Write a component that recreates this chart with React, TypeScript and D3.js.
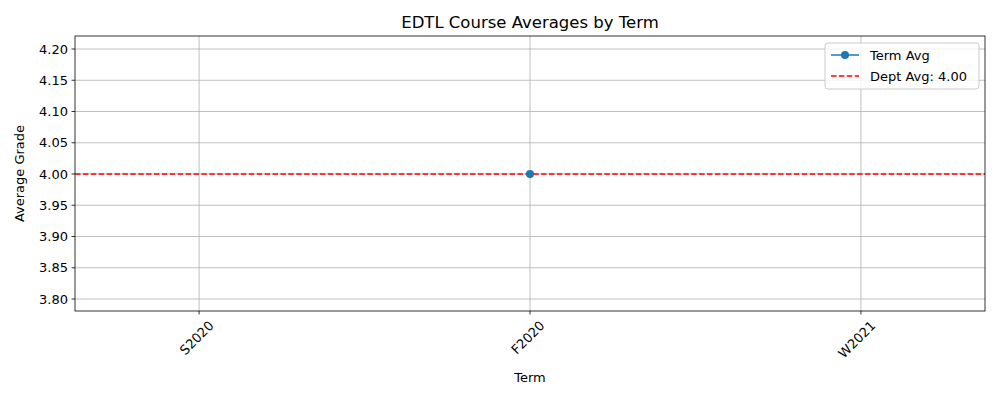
import React from 'react';
import * as d3 from 'd3';

const terms = ['S2020', 'F2020', 'W2021'];
const termAvg: (number | null)[] = [null, 4.0, null];
const deptAvg = 4.0;
const yTicks = [3.8, 3.85, 3.9, 3.95, 4.0, 4.05, 4.1, 4.15, 4.2];

const W = 1000;
const H = 400;
const m = { top: 36, right: 15, bottom: 89, left: 75 };

const App: React.FC = () => {
  const x = d3.scaleLinear().domain([-0.375, terms.length - 1 + 0.375]).range([m.left, W - m.right]);
  const y = d3.scaleLinear().domain([3.7808, 4.2208]).range([H - m.bottom, m.top]);
  const font = 'DejaVu Sans, sans-serif';
  const blue = '#1f77b4';

  const pts = termAvg.map((v, i) => ({ v, i })).filter((d) => d.v !== null);
  const line = d3
    .line<{ v: number | null; i: number }>()
    .defined((d) => d.v !== null)
    .x((d) => x(d.i))
    .y((d) => y(d.v as number));

  return (
    <svg width={W} height={H} style={{ position: 'absolute', left: 0, top: 0 }} fontFamily={font}>
      <rect width={W} height={H} fill="#fff" />
      {/* grid */}
      {yTicks.map((t) => (
        <line key={t} x1={m.left} x2={W - m.right} y1={y(t)} y2={y(t)} stroke="#b0b0b0" strokeWidth={0.8} />
      ))}
      {terms.map((t, i) => (
        <line key={t} x1={x(i)} x2={x(i)} y1={m.top} y2={H - m.bottom} stroke="#b0b0b0" strokeWidth={0.8} />
      ))}
      {/* dept avg */}
      <line x1={m.left} x2={W - m.right} y1={y(deptAvg)} y2={y(deptAvg)} stroke="red" strokeWidth={1.5} strokeDasharray="5.5,2.4" />
      <path d={line(termAvg.map((v, i) => ({ v, i }))) || ''} fill="none" stroke={blue} strokeWidth={1.5} />
      {pts.map((d) => (
        <circle key={d.i} cx={x(d.i)} cy={y(d.v as number)} r={4} fill={blue} />
      ))}
      {/* frame */}
      <rect x={m.left} y={m.top} width={W - m.left - m.right} height={H - m.top - m.bottom} fill="none" stroke="#000" strokeWidth={0.8} />
      {/* y axis */}
      {yTicks.map((t) => (
        <g key={t}>
          <line x1={m.left - 3.5} x2={m.left} y1={y(t)} y2={y(t)} stroke="#000" strokeWidth={0.8} />
          <text x={m.left - 7} y={y(t)} dy="0.35em" textAnchor="end" fontSize={13}>
            {t.toFixed(2)}
          </text>
        </g>
      ))}
      {/* x axis */}
      {terms.map((t, i) => (
        <g key={t}>
          <line x1={x(i)} x2={x(i)} y1={H - m.bottom} y2={H - m.bottom + 3.5} stroke="#000" strokeWidth={0.8} />
          <text
            transform={`translate(${x(i) + 9},${H - m.bottom + 9}) rotate(-45)`}
            textAnchor="end"
            dy="0.7em"
            fontSize={13}
          >
            {t}
          </text>
        </g>
      ))}
      <text x={(m.left + W - m.right) / 2} y={382} textAnchor="middle" fontSize={13}>Term</text>
      <text transform={`translate(24,${(m.top + H - m.bottom) / 2}) rotate(-90)`} textAnchor="middle" fontSize={13}>
        Average Grade
      </text>
      <text x={(m.left + W - m.right) / 2} y={28} textAnchor="middle" fontSize={16.5}>
        EDTL Course Averages by Term
      </text>
      {/* legend */}
      <g transform="translate(825,43)">
        <rect width={154} height={46} rx={3} fill="#fff" fillOpacity={0.8} stroke="#ccc" />
        <line x1={6} x2={34} y1={12} y2={12} stroke={blue} strokeWidth={1.5} />
        <circle cx={20} cy={12} r={4} fill={blue} />
        <text x={45} y={12} dy="0.35em" fontSize={13}>Term Avg</text>
        <line x1={6} x2={34} y1={33} y2={33} stroke="red" strokeWidth={1.5} strokeDasharray="5.5,2.4" />
        <text x={45} y={33} dy="0.35em" fontSize={13}>Dept Avg: 4.00</text>
      </g>
    </svg>
  );
};

export default App;
